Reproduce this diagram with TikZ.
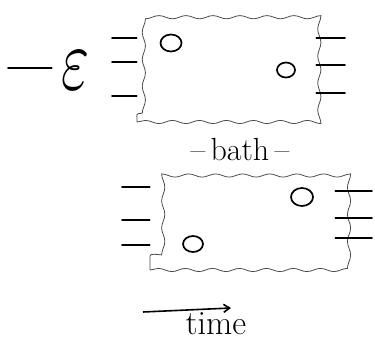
\documentclass[tikz,border=0pt]{standalone}
\usepackage{graphicx}
\usetikzlibrary{decorations.pathmorphing,shapes.geometric,arrows.meta}
\begin{document}
\begin{tikzpicture}[x=1pt,y=-1pt,
  wbox/.style={draw=black!70, line width=0.8pt, decorate,
    decoration={snake, segment length=27pt, amplitude=1.6pt},
    inner sep=0pt},
  stub/.style={line width=1.8pt, line cap=round},
  blob/.style={ellipse, draw, line width=1.7pt, inner sep=0pt},
  label/.style={font=\fontsize{32}{32}\selectfont, inner sep=0pt}]
\useasboundingbox (0,0) rectangle (375,340);
% top box
\node[wbox, minimum width=179pt, minimum height=108pt] (b1) at (226.5,68) {};
\node[blob, minimum width=21pt, minimum height=17pt] (c1) at (171,43) {};
\node[blob, minimum width=18pt, minimum height=15pt] (c2) at (286,70) {};
\foreach \i/\y in {1/38,2/62,3/96}{
  \coordinate (tl\i) at (112,\y);
  \draw[stub] (tl\i) -- (tl\i -| b1.west);
}
\foreach \i/\y in {1/38,2/65,3/93}{
  \coordinate (tr\i) at (345,\y);
  \draw[stub] (tr\i -| b1.east) -- (tr\i);
}
% epsilon
\node[inner sep=0pt] (eps) at (76,70) {\resizebox{28pt}{38pt}{$\varepsilon$}};
\coordinate (d0) at (8,68);
\draw[stub] (d0) -- ([xshift=-10pt]eps.west |- d0);
% bath
\node[label] (bath) at (240,150) {--\,bath\,--};
% bottom box
\node[wbox, minimum width=185pt, minimum height=106pt] (b2) at (242.5,217) {};
\node[blob, minimum width=22pt, minimum height=18pt] (c3) at (302,197) {};
\node[blob, minimum width=20pt, minimum height=16pt] (c4) at (193,244) {};
\foreach \i/\y in {1/187,2/220,3/245}{
  \coordinate (bl\i) at (122,\y);
  \draw[stub] (bl\i) -- (bl\i -| b2.west);
}
\foreach \i/\y in {1/191,2/218,3/238}{
  \coordinate (br\i) at (372,\y);
  \draw[stub] (br\i -| b2.east) -- (br\i);
}
% time arrow
\coordinate (a0) at (143,312);
\coordinate (a1) at (231,308);
\draw[line width=1.6pt, -{Straight Barb[length=6pt,width=8pt]}] (a0) -- (a1);
\node[font=\fontsize{34}{34}\selectfont, inner sep=0pt, anchor=base] (time) at (216,334) {time};
\end{tikzpicture}
\end{document}
